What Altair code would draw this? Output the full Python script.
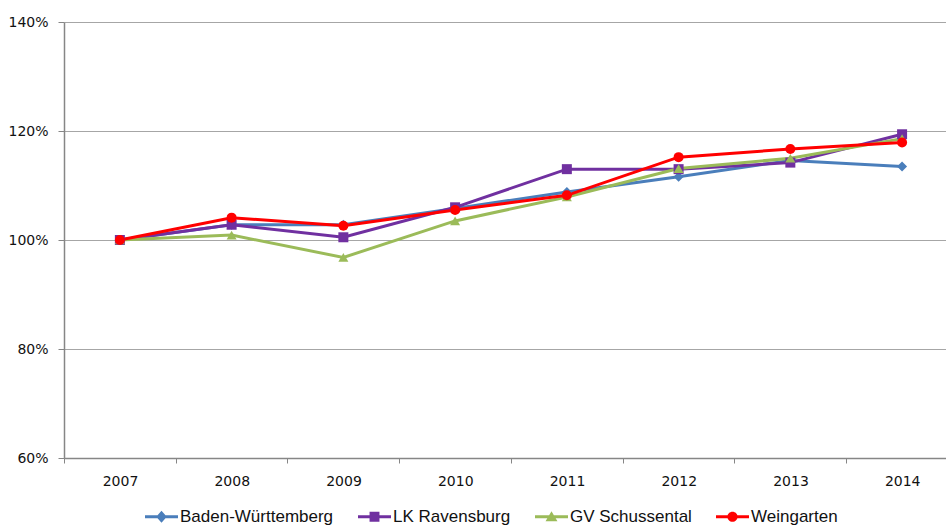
import altair as alt
import pandas as pd

# Index values (2007 = 100 %)
years = [2007, 2008, 2009, 2010, 2011, 2012, 2013, 2014]
series_names = ["Baden-Württemberg", "LK Ravensburg", "GV Schussental", "Weingarten"]
baden_wuerttemberg = [100.0, 102.8, 102.8, 105.8, 108.8, 111.6, 114.6, 113.5]
lk_ravensburg = [100.0, 102.8, 100.5, 106.0, 113.0, 113.0, 114.2, 119.4]
gv_schussental = [100.0, 100.9, 96.8, 103.5, 107.9, 113.1, 115.0, 118.6]
weingarten = [100.0, 104.1, 102.6, 105.5, 108.2, 115.2, 116.7, 117.9]

colors = ["#4A7EBB", "#7030A0", "#9BBB59", "#FF0000"]
marker_shapes = ["diamond", "square", "triangle-up", "circle"]

# legend symbols: a short line with the series marker on top
_bar = "M-1,-0.09H1V0.09H-1Z "
legend_shapes = [
    _bar + "M0,-0.36L0.32,0L0,0.36L-0.32,0Z",
    _bar + "M-0.3,-0.3H0.3V0.3H-0.3Z",
    _bar + "M0,-0.34L0.36,0.28H-0.36Z",
    _bar + "M-0.31,0A0.31,0.31 0 1,1 0.31,0A0.31,0.31 0 1,1 -0.31,0Z",
]

rows = []
for name, vals in zip(series_names, [baden_wuerttemberg, lk_ravensburg, gv_schussental, weingarten]):
    for yr, v in zip(years, vals):
        rows.append({"year": yr, "value": v, "series": name})
df = pd.DataFrame(rows)

AXIS_FONT = "DejaVu Sans"
LEGEND_FONT = "Liberation Sans"
AXIS_GRAY = "#868686"

x_enc = alt.X(
    "year:Q",
    scale=alt.Scale(domain=[2006.5, 2014.393], nice=False, zero=False),
    axis=alt.Axis(
        values=[2006.5, 2007.5, 2008.5, 2009.5, 2010.5, 2011.5, 2012.5, 2013.5],
        labelExpr="format(datum.value + 0.5, 'd')",
        labelOffset=56,
        labelFlush=False,
        labelOverlap=False,
        labelPadding=11,
        tickSize=5,
        grid=False,
        title=None,
    ),
)
y_enc = alt.Y(
    "value:Q",
    scale=alt.Scale(domain=[60, 140], nice=False, zero=False),
    axis=alt.Axis(
        values=[60, 80, 100, 120, 140],
        labelExpr="datum.value + '%'",
        tickSize=6,
        labelPadding=10,
        grid=True,
        title=None,
    ),
)
color_plain = alt.Color(
    "series:N", scale=alt.Scale(domain=series_names, range=colors), legend=None
)

base = alt.Chart(df)

lines = base.mark_line(strokeWidth=3).encode(
    x=x_enc, y=y_enc, color=color_plain, detail="series:N"
)

points = base.mark_point(filled=True, opacity=1, size=100).encode(
    x=x_enc,
    y=y_enc,
    color=color_plain,
    shape=alt.Shape(
        "series:N", scale=alt.Scale(domain=series_names, range=marker_shapes), legend=None
    ),
)

legend_layer = base.transform_filter("false").mark_point(filled=True, opacity=1).encode(
    x=x_enc,
    y=y_enc,
    color=alt.Color(
        "series:N",
        scale=alt.Scale(domain=series_names, range=colors),
        legend=alt.Legend(title=None),
    ),
    shape=alt.Shape(
        "series:N",
        scale=alt.Scale(domain=series_names, range=legend_shapes),
        legend=alt.Legend(title=None),
    ),
)

chart = (
    alt.layer(lines, points, legend_layer)
    .resolve_scale(color="independent", shape="independent")
    .properties(
        width=882,
        height=436,
        autosize=alt.AutoSizeParams(type="none"),
        padding={"left": 64, "top": 22, "right": 0, "bottom": 69},
        background="white",
    )
    .configure_view(stroke=None)
    .configure_axis(
        domainColor=AXIS_GRAY,
        tickColor=AXIS_GRAY,
        gridColor="#A6A6A6",
        domainWidth=1.5,
        tickWidth=1,
        labelFont=AXIS_FONT,
        labelFontSize=14,
        labelColor="#111111",
    )
    .configure_legend(
        orient="none",
        legendX=81,
        legendY=478,
        direction="horizontal",
        symbolSize=1089,
        symbolStrokeWidth=0,
        labelFont=LEGEND_FONT,
        labelFontSize=17,
        labelColor="#111111",
        labelOffset=2,
        columnPadding=24,
        padding=0,
    )
)

chart.save("out.html", embed_options={"renderer": "svg", "actions": False})
